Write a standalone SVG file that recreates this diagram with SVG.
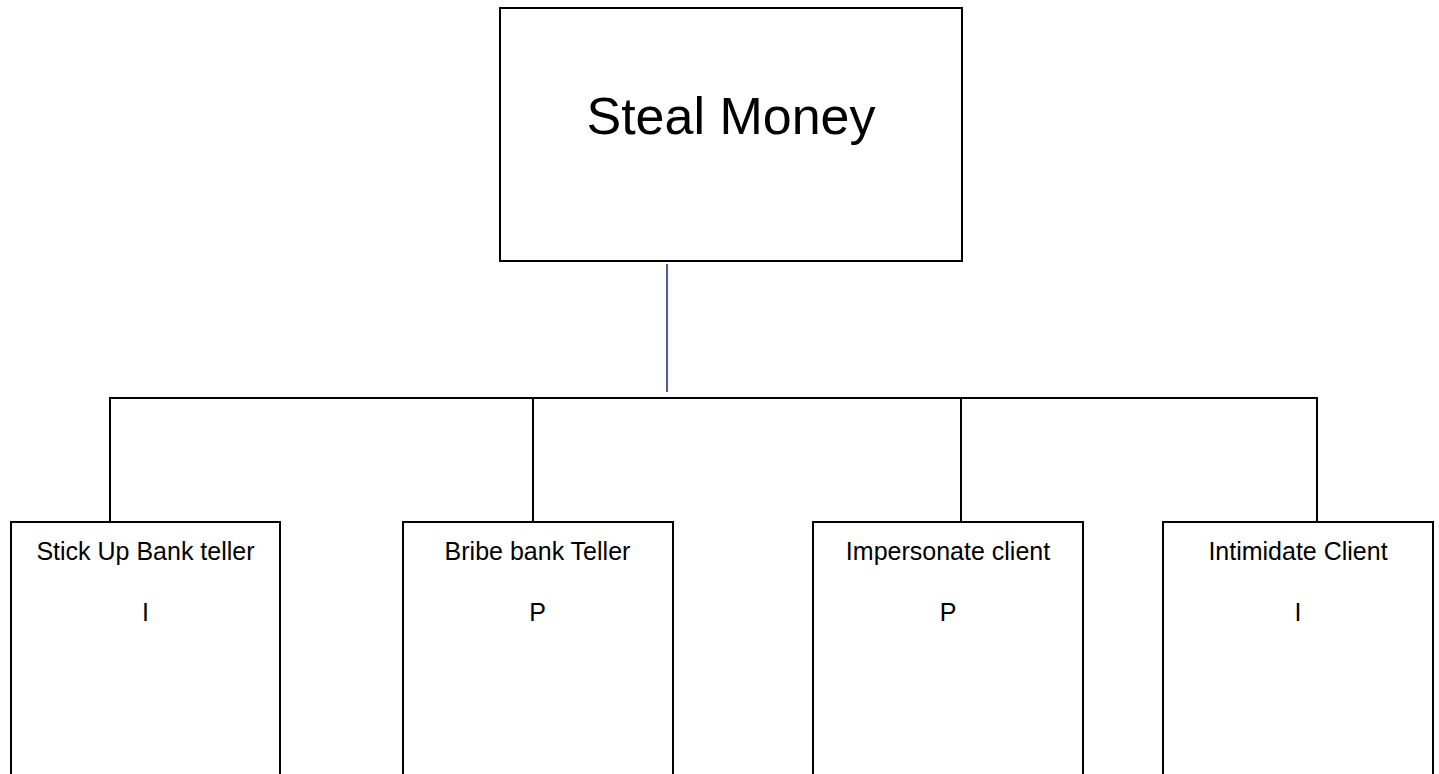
<svg xmlns="http://www.w3.org/2000/svg" width="1439" height="774" viewBox="0 0 1439 774">
  <style>
    .box { fill: #ffffff; stroke: #000000; stroke-width: 2; }
    .conn { fill: none; stroke: #000000; stroke-width: 2; }
    .blue { fill: none; stroke: #44609f; stroke-width: 2; }
    .title { font-family: "Liberation Sans", Arial, sans-serif; font-size: 52px; fill: #000000; text-anchor: middle; }
    .lbl { font-family: "Liberation Sans", Arial, sans-serif; font-size: 25px; fill: #000000; text-anchor: middle; }
  </style>
  <rect x="0" y="0" width="1439" height="774" fill="#ffffff"/>
  <g id="connectors">
    <line class="blue" x1="667" y1="264" x2="667" y2="392"/>
    <line class="conn" x1="110" y1="398" x2="1318" y2="398"/>
    <line class="conn" x1="110" y1="397" x2="110" y2="522"/>
    <line class="conn" x1="533" y1="398" x2="533" y2="522"/>
    <line class="conn" x1="961" y1="398" x2="961" y2="522"/>
    <line class="conn" x1="1317" y1="397" x2="1317" y2="522"/>
  </g>
  <g id="steal-money">
    <rect class="box" x="500" y="8" width="462" height="253"/>
    <text class="title" x="731" y="134">Steal Money</text>
  </g>
  <g id="stick-up">
    <rect class="box" x="11" y="522" width="269" height="270"/>
    <text class="lbl" x="145.5" y="560">Stick Up Bank teller</text>
    <text class="lbl" x="145.5" y="621">I</text>
  </g>
  <g id="bribe">
    <rect class="box" x="403" y="522" width="270" height="270"/>
    <text class="lbl" x="537.5" y="560">Bribe bank Teller</text>
    <text class="lbl" x="537.5" y="621">P</text>
  </g>
  <g id="impersonate">
    <rect class="box" x="813" y="522" width="270" height="270"/>
    <text class="lbl" x="948" y="560">Impersonate client</text>
    <text class="lbl" x="948" y="621">P</text>
  </g>
  <g id="intimidate">
    <rect class="box" x="1163" y="522" width="270" height="270"/>
    <text class="lbl" x="1298" y="560">Intimidate Client</text>
    <text class="lbl" x="1298" y="621">I</text>
  </g>
</svg>
